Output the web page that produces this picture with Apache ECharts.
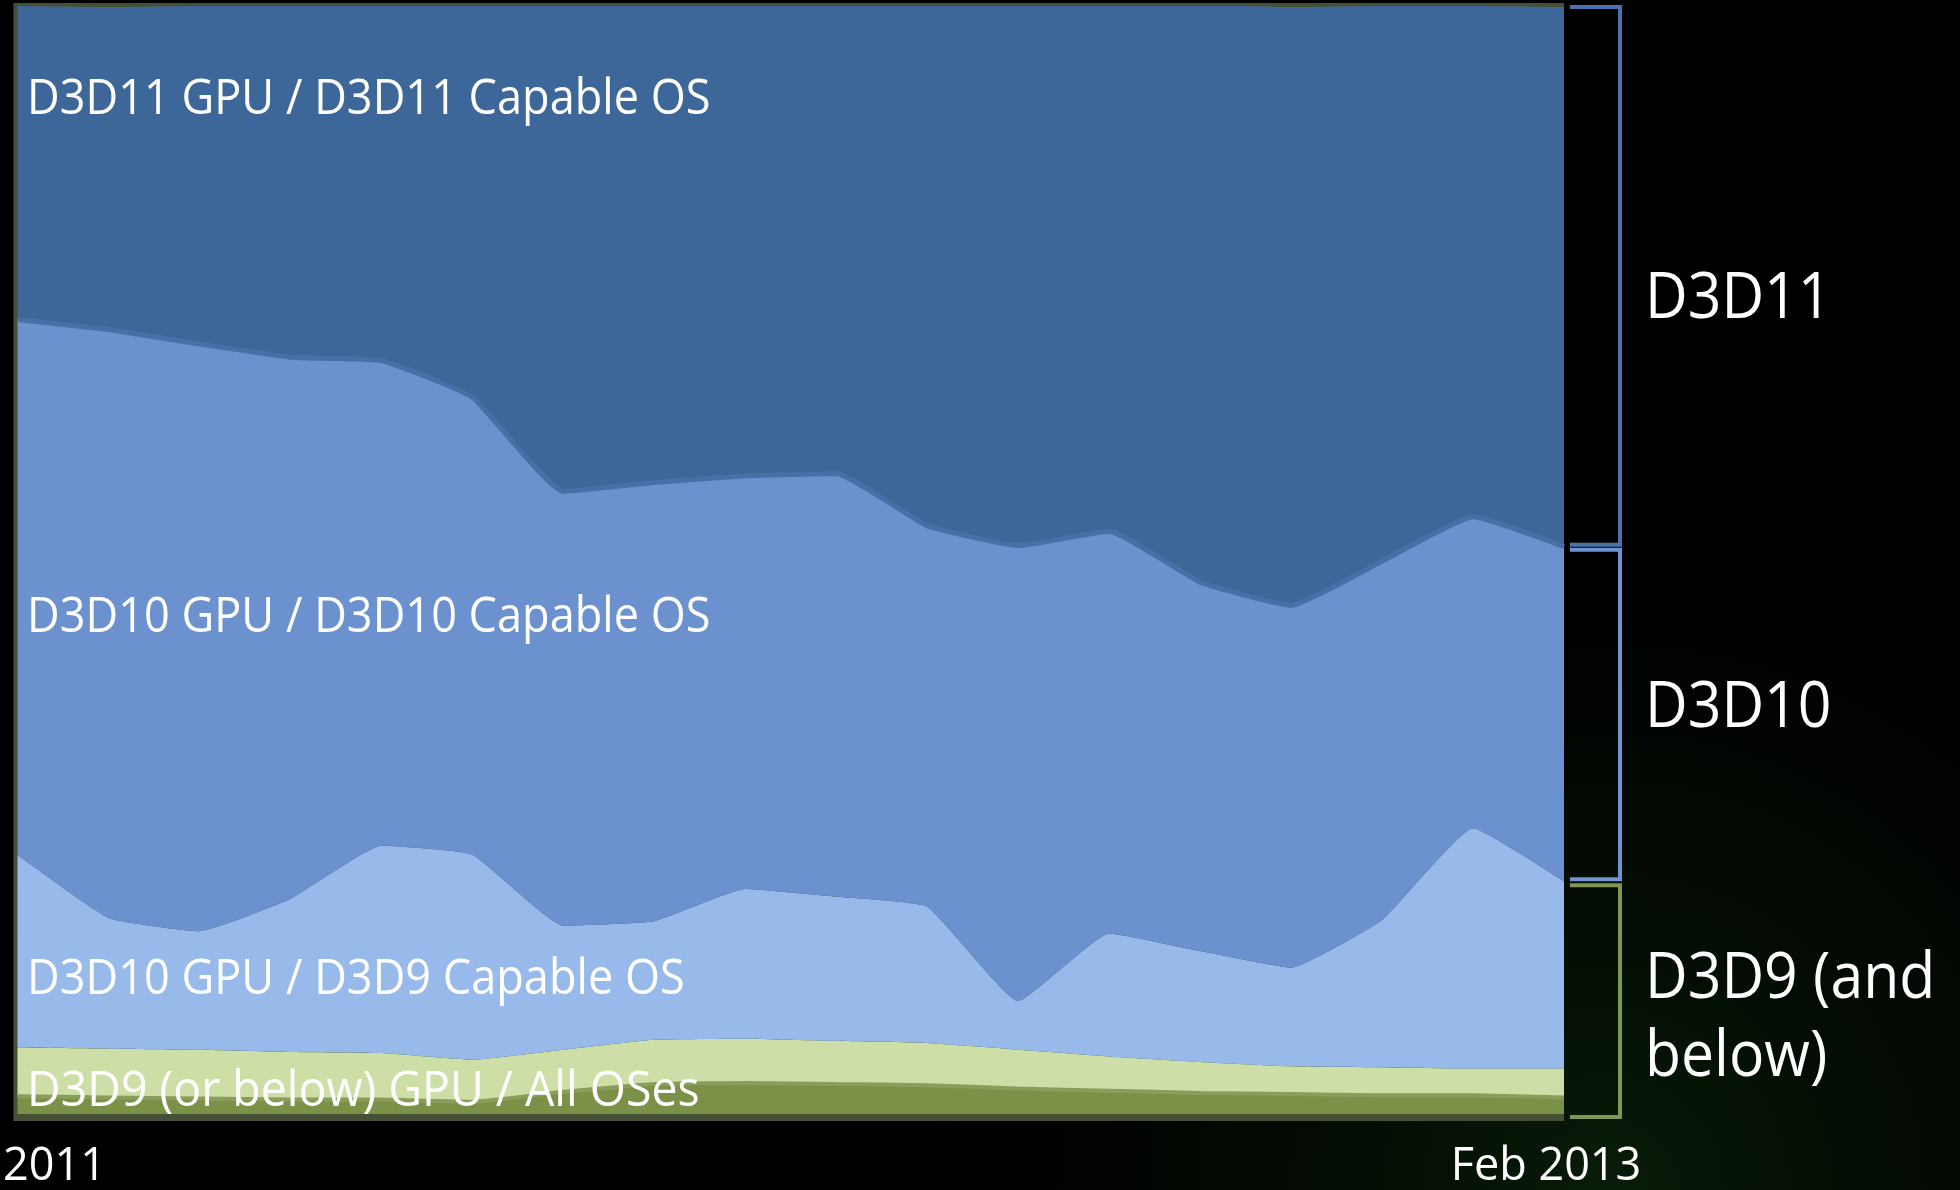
<!DOCTYPE html>
<html>
<head>
<meta charset="utf-8">
<title>GPU / OS Direct3D capability share</title>
<script src="https://cdn.jsdelivr.net/npm/echarts@6/dist/echarts.min.js"></script>
<style>
  html, body { margin: 0; padding: 0; background: #000; }
  #chart { width: 1960px; height: 1190px; }
</style>
</head>
<body>
<div id="chart"></div>
<script>
// Survey samples, Jan 2011 .. Feb 2013 (share of systems, percent)
const categories = ['s01', 's02', 's03', 's04', 's05', 's06', 's07', 's08', 's09',
                    's10', 's11', 's12', 's13', 's14', 's15', 's16', 's17', 's18'];
const tickLabels = { 0: '2011', 17: 'Feb 2013' };

// Stacked from the bottom up
const d3d9LowerBand   = [1.6, 1.5, 1.4, 1.3, 1.3, 1.1, 2.0, 2.7, 2.8, 2.7, 2.6, 2.3, 2.1, 1.9, 1.8, 1.7, 1.7, 1.5];
const d3d9UpperBand   = [4.4, 4.4, 4.4, 4.3, 4.2, 3.8, 3.8, 4.0, 4.0, 3.9, 3.8, 3.5, 3.1, 2.8, 2.5, 2.5, 2.4, 2.6];
const d3d10GpuD3D9Os  = [17.4, 11.8, 10.7, 13.8, 18.7, 18.5, 11.2, 10.7, 13.5, 13.0, 12.3, 4.4, 11.1, 10.0, 8.9, 13.3, 21.7, 16.9];
const d3d10GpuD3D10Os = [48.3, 53.1, 53.0, 48.9, 43.8, 41.3, 39.2, 39.6, 37.3, 38.2, 34.4, 41.1, 36.3, 33.3, 32.7, 32.4, 28.1, 30.2];
const d3d11GpuD3D11Os = [28.3, 29.1, 30.5, 31.7, 32.0, 35.3, 43.8, 43.1, 42.4, 42.2, 46.9, 48.7, 47.5, 52.1, 54.0, 50.1, 46.1, 48.7];

const areaLabels = [
  { text: 'D3D11 GPU / D3D11 Capable OS', y: 100, sx: 0.92 },
  { text: 'D3D10 GPU / D3D10 Capable OS', y: 618, sx: 0.92 },
  { text: 'D3D10 GPU / D3D9 Capable OS', y: 980, sx: 0.92 },
  { text: 'D3D9 (or below) GPU / All OSes', y: 1092, sx: 0.948 }
];
const groupLabels = ['D3D11', 'D3D10', 'D3D9 (and\nbelow)'];

const SMOOTH = 0.12;
function band(name, data, color, extra) {
  return Object.assign({
    name: name,
    type: 'line',
    stack: 'share',
    data: data,
    symbol: 'none',
    smooth: SMOOTH,
    silent: true,
    lineStyle: { width: 0 },
    itemStyle: { color: color },
    areaStyle: { color: color, opacity: 1 },
    z: 2
  }, extra || {});
}

const chart = echarts.init(document.getElementById('chart'), null, { renderer: 'canvas' });

const option = {
  backgroundColor: '#000',
  animation: false,
  grid: { left: 8, right: 396, top: 6, bottom: 72 },
  xAxis: {
    type: 'category',
    data: categories,
    boundaryGap: false,
    axisLine: { show: false },
    axisTick: { show: false },
    splitLine: { show: false },
    axisLabel: {
      interval: 0,
      margin: 31,
      color: '#fff',
      fontFamily: 'Open Sans',
      fontSize: 45,
      formatter: function (value, index) {
        if (index === 0) return '{first|' + tickLabels[0] + '}';
        if (index === categories.length - 1) return '{last|' + tickLabels[17] + '}';
        return '';
      },
      rich: {
        first: { padding: [0, 0, 0, 74], fontSize: 45, fontFamily: 'Open Sans', color: '#fff' },
        last: { padding: [0, 36, 0, 0], fontSize: 45, fontFamily: 'Open Sans', color: '#fff' }
      }
    }
  },
  yAxis: { type: 'value', min: 0, max: 100, show: false },
  series: [
    band('D3D9 (or below) GPU, base', d3d9LowerBand, '#7a9147',
         { lineStyle: { width: 4, color: '#8a9e5b' } }),
    band('D3D9 (or below) GPU / All OSes', d3d9UpperBand, '#cddfa7'),
    band('D3D10 GPU / D3D9 Capable OS', d3d10GpuD3D9Os, '#97baea'),
    band('D3D10 GPU / D3D10 Capable OS', d3d10GpuD3D10Os, '#6b91cf',
         { lineStyle: { width: 5, color: '#4670a6' }, z: 3 }),
    band('D3D11 GPU / D3D11 Capable OS', d3d11GpuD3D11Os, '#3e6799')
  ]
};
chart.setOption(option);

// Annotations: frame, in-area captions, right-hand group brackets and captions
const last = categories.length - 1;
const yPix = v => chart.convertToPixel({ yAxisIndex: 0 }, v);
const xPix = i => chart.convertToPixel({ xAxisIndex: 0 }, i);
const d3d9Top = d3d9LowerBand[last] + d3d9UpperBand[last] + d3d10GpuD3D9Os[last];
const d3d10Top = d3d9Top + d3d10GpuD3D10Os[last];
const xLeft = xPix(0), xRight = xPix(last);
const yTop = yPix(100), yBottom = yPix(0);

const bracketX = xRight + 56;
const tickX = xRight + 6;
function bracket(y0, y1, color) {
  return {
    type: 'polyline',
    z: 10,
    shape: { points: [[tickX, y0], [bracketX, y0], [bracketX, y1], [tickX, y1]] },
    style: { stroke: color, lineWidth: 4, fill: null }
  };
}

const labelFont = '"Open Sans", "Noto Sans", sans-serif';
const graphics = [
  {
    type: 'rect', z: -10, silent: true,
    shape: { x: 0, y: 0, width: 1960, height: 1190 },
    style: {
      fill: {
        type: 'radial', x: 0.82, y: 1.0, r: 0.6,
        colorStops: [
          { offset: 0, color: 'rgba(22,70,22,0.40)' },
          { offset: 0.6, color: 'rgba(10,40,10,0.16)' },
          { offset: 1, color: 'rgba(0,0,0,0)' }
        ]
      }
    }
  },
  {
    type: 'rect', z: -5, silent: true,
    shape: { x: xLeft - 4, y: yTop - 3, width: xRight - xLeft + 4, height: yBottom - yTop + 10 },
    style: { fill: '#465036' }
  },
  bracket(yTop + 1, yPix(d3d10Top) - 2, '#4a72ac'),
  bracket(yPix(d3d10Top) + 3, yPix(d3d9Top) - 2, '#6e94d2'),
  bracket(yPix(d3d9Top) + 4, yBottom + 3, '#7f9851')
];

areaLabels.forEach(l => {
  graphics.push({
    type: 'text', z: 20, silent: true,
    x: 27, y: l.y, scaleX: l.sx,
    style: { text: l.text, fill: '#fff', fontSize: 49, fontFamily: labelFont, verticalAlign: 'middle', align: 'left' }
  });
});

const groupY = [300, 709, 1019];
groupLabels.forEach((t, i) => {
  graphics.push({
    type: 'text', z: 20, silent: true,
    x: 1645, y: groupY[i], scaleX: 0.92,
    style: { text: t, fill: '#fff', fontSize: 64, lineHeight: 78, fontFamily: labelFont, verticalAlign: 'middle', align: 'left' }
  });
});

chart.setOption({ graphic: { elements: graphics } });
</script>
</body>
</html>
